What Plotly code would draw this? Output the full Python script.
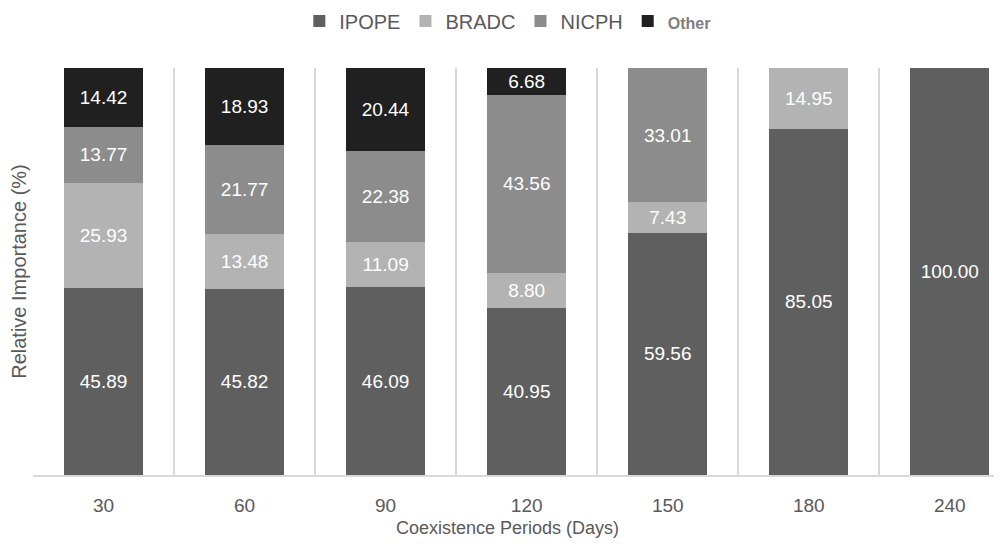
import plotly.graph_objects as go

periods = ["30", "60", "90", "120", "150", "180", "240"]
ipope = [45.89, 45.82, 46.09, 40.95, 59.56, 85.05, 100.00]
bradc = [25.93, 13.48, 11.09, 8.80, 7.43, 14.95, None]
nicph = [13.77, 21.77, 22.38, 43.56, 33.01, None, None]
other = [14.42, 18.93, 20.44, 6.68, None, None, None]

series = [
    ("IPOPE", ipope, "#5f5f5f"),
    ("BRADC", bradc, "#b3b3b3"),
    ("NICPH", nicph, "#8c8c8c"),
    ("<span style='font-size:16px;color:#7f7f7f'><b>Other</b></span>", other, "#202020"),
]

fig = go.Figure()
for name, vals, col in series:
    fig.add_trace(go.Bar(
        x=periods, y=vals, name=name, marker=dict(color=col, line=dict(width=0)),
        texttemplate="%{y:.2f}", textposition="inside", insidetextanchor="middle",
        textfont=dict(color="white", size=19, family="Liberation Sans, Arial"),
        textangle=0,
    ))

fig.update_layout(
    barmode="stack",
    bargap=0.44,
    width=1002, height=544,
    margin=dict(l=25, r=8, t=60, b=77, autoexpand=False),
    paper_bgcolor="white", plot_bgcolor="white",
    font=dict(family="Liberation Sans, Arial", color="#595959"),
    legend=dict(orientation="h", x=0.49, xanchor="center", y=0.976, yref="container",
                yanchor="middle", traceorder="normal",
                font=dict(size=20, color="#595959"), itemwidth=30,
                tracegroupgap=0),
    xaxis=dict(type="category", tickson="boundaries", showgrid=True, gridcolor="#d9d9d9",
               gridwidth=1.5, range=[-0.5, 6.37], showline=True, linecolor="#d9d9d9",
               linewidth=1.5, ticks="", tickfont=dict(size=19, color="#595959"),
               ticklabelstandoff=12),
    yaxis=dict(range=[0, 100], showgrid=False, showticklabels=False, zeroline=False,
               showline=False,
               title=dict(text="Relative Importance (%)", font=dict(size=20, color="#595959"),
                          standoff=0)),
    annotations=[dict(text="Coexistence Periods (Days)", xref="paper", yref="paper",
                      x=0.49, y=-0.13, xanchor="center", yanchor="middle", showarrow=False,
                      font=dict(size=18, color="#595959"))],
)

fig.write_html("out.html")
